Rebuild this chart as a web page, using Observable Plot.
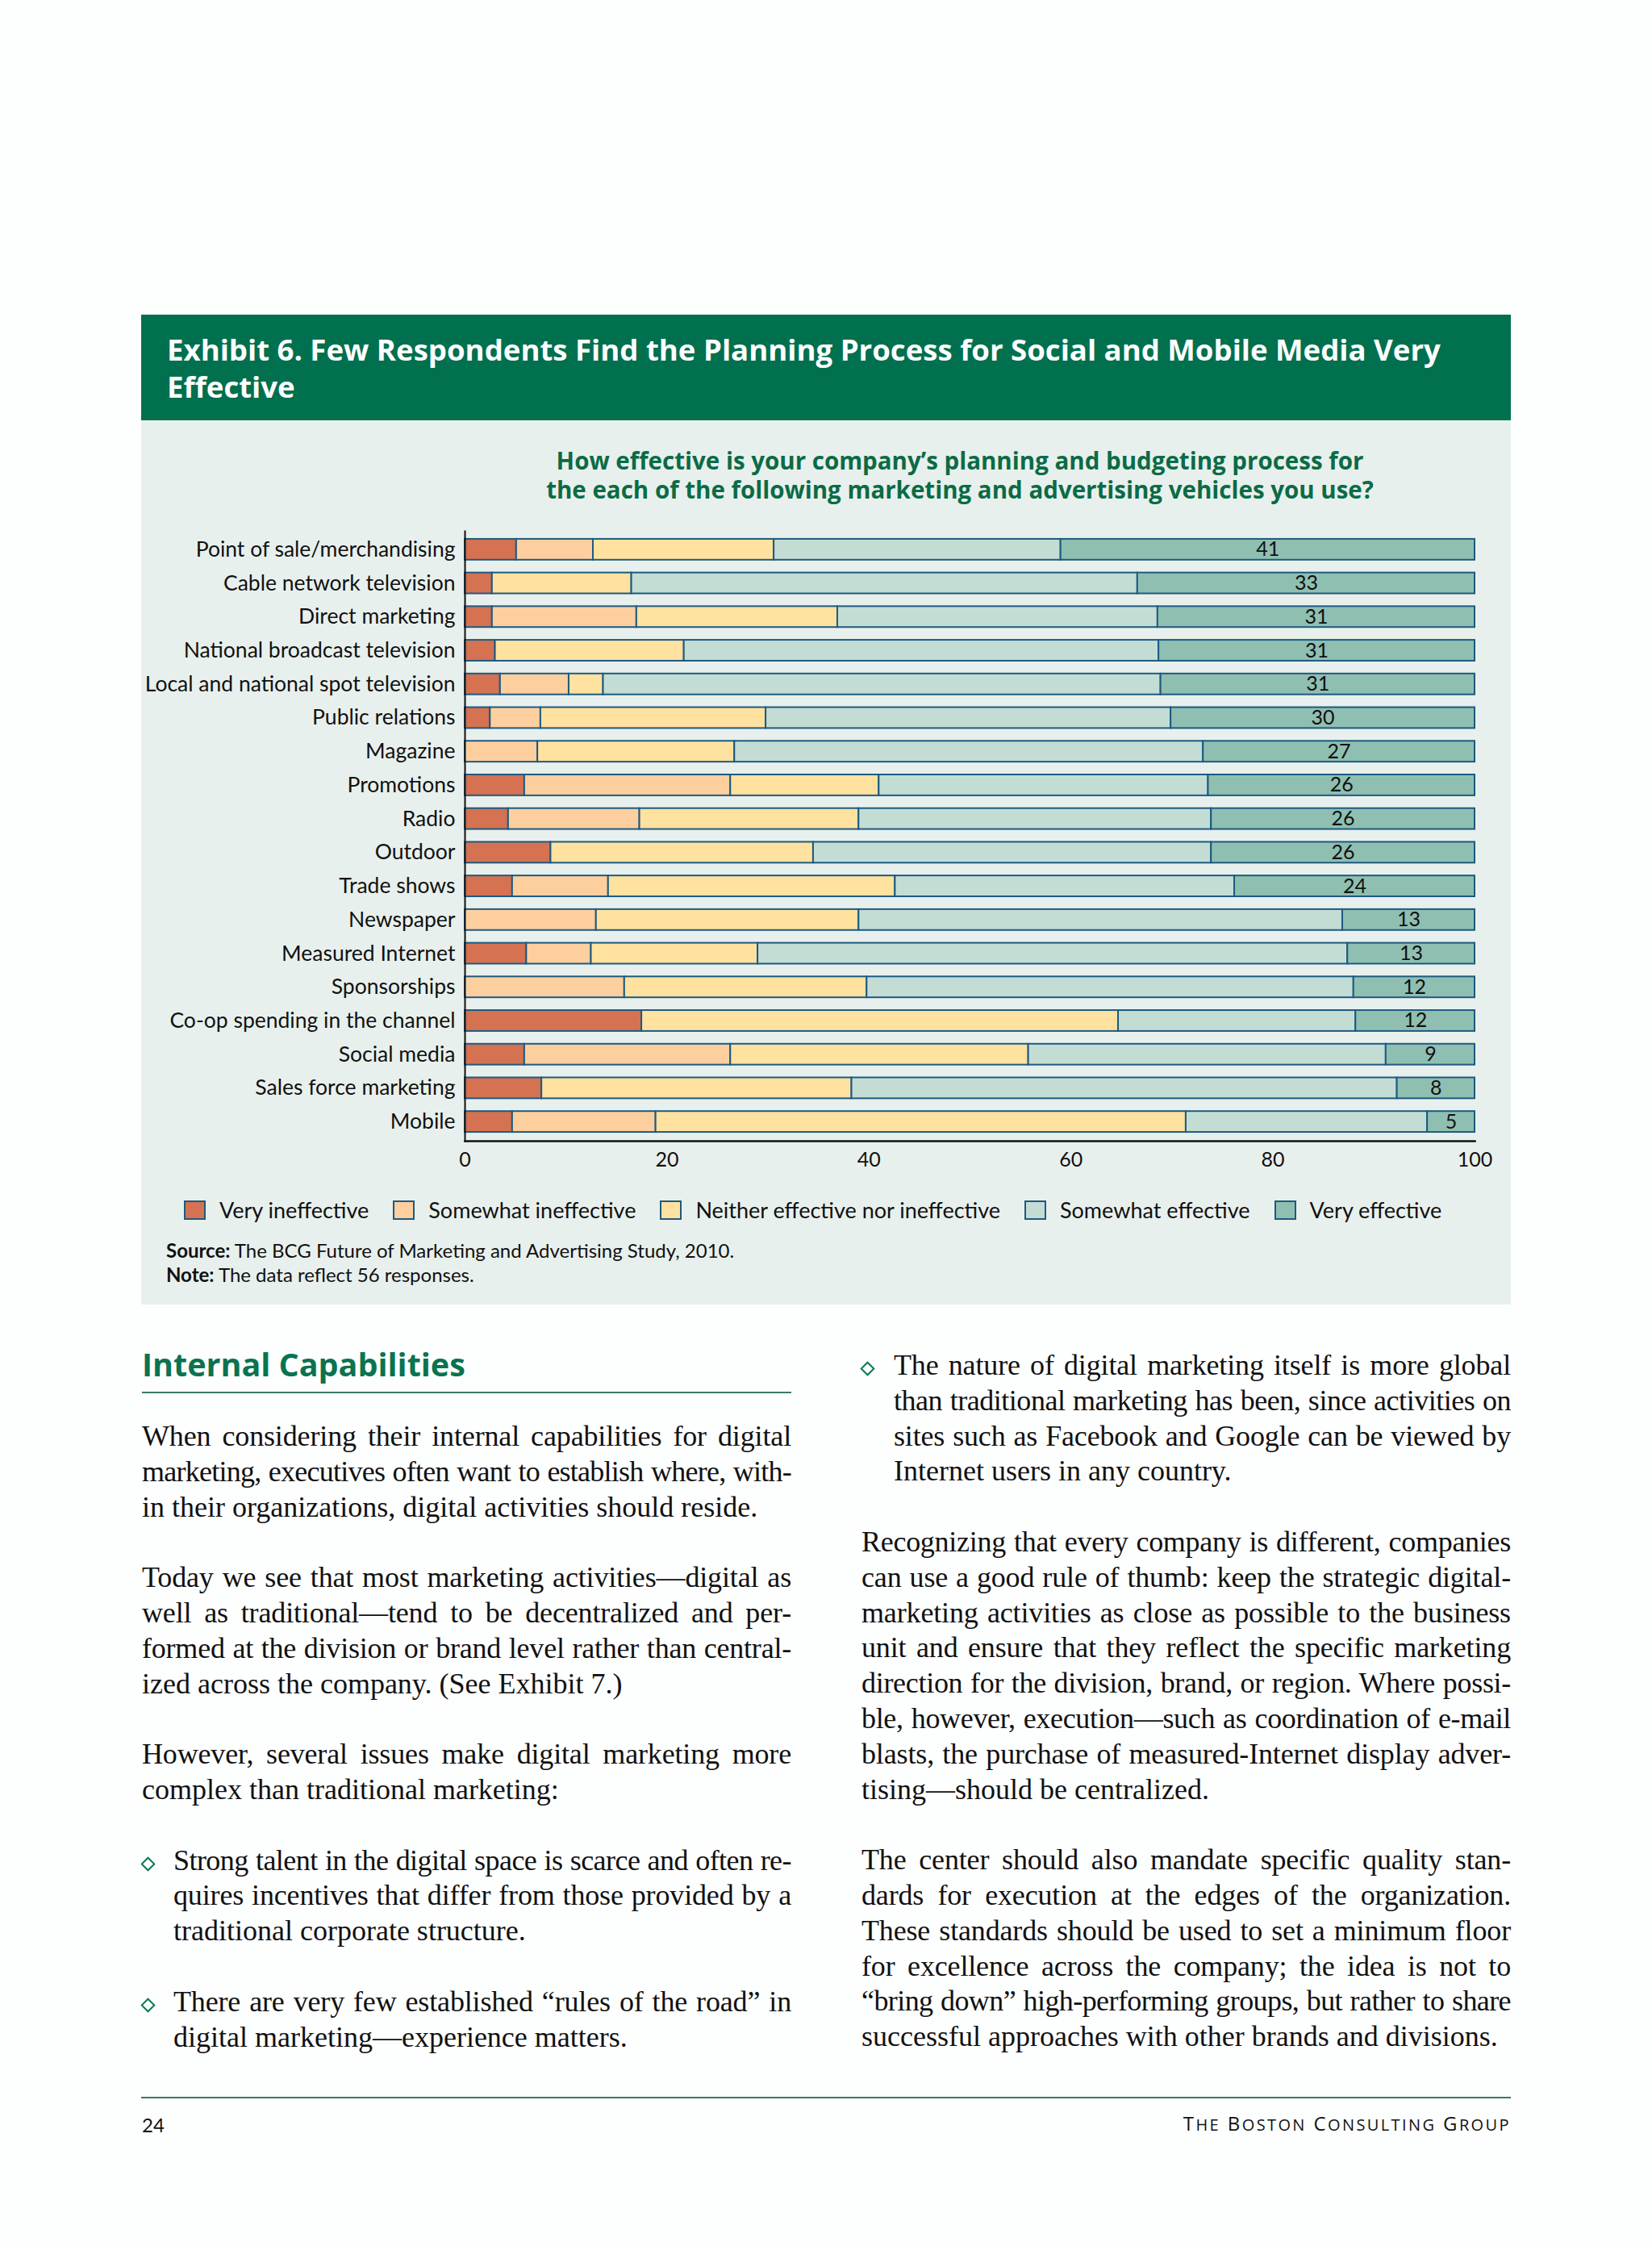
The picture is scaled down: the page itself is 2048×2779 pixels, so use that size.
<!DOCTYPE html>
<html>
<head>
<meta charset="utf-8">
<script src="https://cdn.jsdelivr.net/npm/d3@7"></script>
<script src="https://cdn.jsdelivr.net/npm/@observablehq/plot@0.6"></script>
<style>
  html, body { margin: 0; padding: 0; }
  body { width: 2048px; height: 2779px; background: #fdfefe; position: relative; overflow: hidden; font-family: Lato, "Open Sans", sans-serif; }
  .abs { position: absolute; }
  #titlebar { left: 175px; top: 390px; width: 1698px; height: 131px; background: #00704e; }
  #title { left: 207px; top: 410px; width: 1660px; color: #fff; font: 700 36.6px/46px "Open Sans", sans-serif; white-space: nowrap; }
  #panel { left: 175px; top: 521px; width: 1698px; height: 1096px; background: #e8f0ed; }
  #subtitle { left: 590px; top: 553px; width: 1200px; text-align: center; color: #0b6b45; font: 700 29.5px/35.5px "Open Sans", sans-serif; white-space: nowrap; }
  #chart { left: 0; top: 620px; }
  #legend { left: 228px; top: 1485px; display: flex; align-items: center; font: 400 27px/30px Lato, sans-serif; color: #111; white-space: nowrap; }
  .lg-item { display: flex; align-items: center; margin-right: 30px; }
  .lg-sw { width: 23px; height: 20px; border: 2px solid #1d5a80; margin-right: 17px; }
  #source { left: 206px; top: 1535px; font: 400 24px/30px Lato, sans-serif; color: #111; white-space: nowrap; }
  #heading { left: 176px; top: 1667px; color: #0a7350; font: 700 39.5px/48px "Open Sans", sans-serif; white-space: nowrap; }
  #rule1 { left: 176px; top: 1725px; width: 805px; height: 2px; background: #3b7a68; }
  .body { font-family: "Liberation Serif", "DejaVu Serif", serif; font-size: 36px; line-height: 43.8px; color: #111; }
  .ln { height: 43.8px; white-space: nowrap; }
  .j { text-align: justify; text-align-last: justify; }
  .dia { position: absolute; width: 9px; height: 9px; border: 2px solid #0b7a55; transform: rotate(45deg); }
  #rule2 { left: 175px; top: 2599px; width: 1698px; height: 2px; background: #3b7a68; }
  #pnum { left: 176px; top: 2620px; font: 400 24px/28px Lato, sans-serif; color: #111; }
  #brand { left: 1200px; top: 2618px; width: 673px; text-align: right; font: 400 24px/28px "Open Sans", sans-serif; color: #111; white-space: nowrap; letter-spacing: 2.4px; }
  #brand .sc { font-size: 20px; }
</style>
</head>
<body>
<div class="abs" id="titlebar"></div>
<div class="abs" id="title">Exhibit 6. Few Respondents Find the Planning Process for Social and Mobile Media Very<br>Effective</div>
<div class="abs" id="panel"></div>
<div class="abs" id="subtitle">How effective is your company’s planning and budgeting process for<br>the each of the following marketing and advertising vehicles you use?</div>
<div class="abs" id="chart"></div>
<div class="abs" id="legend"></div>
<div class="abs" id="source"><b>Source:</b> The BCG Future of Marketing and Advertising Study, 2010.<br><b>Note:</b> The data reflect 56 responses.</div>

<div class="abs" id="heading">Internal Capabilities</div>
<div class="abs" id="rule1"></div>

<div class="abs body" style="left:176px; top:1759px; width:805px;">
  <div class="ln j">When considering their internal capabilities for digital</div>
  <div class="ln j">marketing, executives often want to establish where, with-</div>
  <div class="ln">in their organizations, digital activities should reside.</div>
  <div class="ln"></div>
  <div class="ln j">Today we see that most marketing activities—digital as</div>
  <div class="ln j">well as traditional—tend to be decentralized and per-</div>
  <div class="ln j">formed at the division or brand level rather than central-</div>
  <div class="ln">ized across the company. (See Exhibit 7.)</div>
  <div class="ln"></div>
  <div class="ln j">However, several issues make digital marketing more</div>
  <div class="ln">complex than traditional marketing:</div>
  <div class="ln"></div>
  <div style="position:relative; padding-left:39px;">
    <span class="dia" style="left:1px; top:19px;"></span>
    <div class="ln j">Strong talent in the digital space is scarce and often re-</div>
    <div class="ln j">quires incentives that differ from those provided by a</div>
    <div class="ln">traditional corporate structure.</div>
  </div>
  <div class="ln"></div>
  <div style="position:relative; padding-left:39px;">
    <span class="dia" style="left:1px; top:19px;"></span>
    <div class="ln j">There are very few established “rules of the road” in</div>
    <div class="ln">digital marketing—experience matters.</div>
  </div>
</div>

<div class="abs body" style="left:1068px; top:1671px; width:805px;">
  <div style="position:relative; padding-left:40px;">
    <span class="dia" style="left:1px; top:19px;"></span>
    <div class="ln j">The nature of digital marketing itself is more global</div>
    <div class="ln j">than traditional marketing has been, since activities on</div>
    <div class="ln j">sites such as Facebook and Google can be viewed by</div>
    <div class="ln">Internet users in any country.</div>
  </div>
  <div class="ln"></div>
  <div class="ln j">Recognizing that every company is different, companies</div>
  <div class="ln j">can use a good rule of thumb: keep the strategic digital-</div>
  <div class="ln j">marketing activities as close as possible to the business</div>
  <div class="ln j">unit and ensure that they reflect the specific marketing</div>
  <div class="ln j">direction for the division, brand, or region. Where possi-</div>
  <div class="ln j">ble, however, execution—such as coordination of e-mail</div>
  <div class="ln j">blasts, the purchase of measured-Internet display adver-</div>
  <div class="ln">tising—should be centralized.</div>
  <div class="ln"></div>
  <div class="ln j">The center should also mandate specific quality stan-</div>
  <div class="ln j">dards for execution at the edges of the organization.</div>
  <div class="ln j">These standards should be used to set a minimum floor</div>
  <div class="ln j">for excellence across the company; the idea is not to</div>
  <div class="ln j">“bring down” high-performing groups, but rather to share</div>
  <div class="ln">successful approaches with other brands and divisions.</div>
</div>

<div class="abs" id="rule2"></div>
<div class="abs" id="pnum">24</div>
<div class="abs" id="brand">T<span class="sc">HE</span> B<span class="sc">OSTON</span> C<span class="sc">ONSULTING</span> G<span class="sc">ROUP</span></div>

<script>
// ---- data ----
const vehicles = [
  "Point of sale/merchandising",
  "Cable network television",
  "Direct marketing",
  "National broadcast television",
  "Local and national spot television",
  "Public relations",
  "Magazine",
  "Promotions",
  "Radio",
  "Outdoor",
  "Trade shows",
  "Newspaper",
  "Measured Internet",
  "Sponsorships",
  "Co-op spending in the channel",
  "Social media",
  "Sales force marketing",
  "Mobile"
];
const veryIneffective     = [5.1, 2.7, 2.7, 3.0, 3.5, 2.5, 0, 5.9, 4.3, 8.5, 4.7, 0, 6.1, 0, 17.5, 5.9, 7.6, 4.7];
const somewhatIneffective = [7.6, 0, 14.3, 0, 6.8, 5.0, 7.2, 20.4, 13.0, 0, 9.5, 13.0, 6.4, 15.8, 0, 20.4, 0, 14.2];
const neitherNor          = [17.9, 13.8, 19.9, 18.7, 3.4, 22.3, 19.5, 14.7, 21.7, 26.0, 28.4, 26.0, 16.5, 24.0, 47.2, 29.5, 30.7, 52.5];
const somewhatEffective   = [28.4, 50.1, 31.7, 47.0, 55.2, 40.1, 46.4, 32.6, 34.9, 39.4, 33.6, 47.9, 58.4, 48.2, 23.5, 35.4, 54.0, 23.9];
const veryEffective       = [41.0, 33.4, 31.4, 31.3, 31.1, 30.1, 26.9, 26.4, 26.1, 26.1, 23.8, 13.1, 12.6, 12.0, 11.8, 8.8, 7.7, 4.7];
const ratings = ["Very ineffective", "Somewhat ineffective", "Neither effective nor ineffective", "Somewhat effective", "Very effective"];
const ratingColors = ["#d47252", "#fecf9e", "#ffe29f", "#c3ddd5", "#8ebfb1"];
const xTicks = [0, 20, 40, 60, 80, 100];

// ---- build ----
const seriesValues = [veryIneffective, somewhatIneffective, neitherNor, somewhatEffective, veryEffective];
const tidy = vehicles.flatMap((v, i) => ratings.map((r, j) => ({vehicle: v, rating: r, value: seriesValues[j][i]})))
  .filter(d => d.value > 0);
const labels = vehicles.map((v, i) => ({vehicle: v, ve: veryEffective[i]}));
const edge = "#1d5a80";

const chart = Plot.plot({
  width: 2048,
  height: 844,
  marginLeft: 576,
  marginRight: 220,
  marginTop: 38,
  marginBottom: 50,
  style: {background: "transparent", fontFamily: "Lato, sans-serif", fontSize: "24px", color: "#111"},
  x: {domain: [0, 100], label: null},
  y: {domain: vehicles, label: null, paddingInner: 0.38, paddingOuter: 0.19, insetTop: 2, insetBottom: 3, round: false},
  color: {domain: ratings, range: ratingColors},
  marks: [
    Plot.barX(tidy, {x: "value", y: "vehicle", fill: "rating", stroke: edge, strokeWidth: 2}),
    Plot.text(labels, {x: d => 100 - d.ve / 2, y: "vehicle", text: d => String(Math.round(d.ve)), fontSize: 25, fill: "#111"}),
    Plot.frame({anchor: "left", stroke: "#111", strokeWidth: 2}),
    Plot.frame({anchor: "bottom", stroke: "#111", strokeWidth: 2.5}),
    Plot.axisX({ticks: xTicks, tickSize: 0, tickPadding: 14, fontSize: 25, label: null}),
    Plot.axisY({tickSize: 0, tickPadding: 12, fontSize: 26.5, label: null})
  ]
});
document.getElementById("chart").appendChild(chart);

// legend
const lg = d3.select("#legend");
ratings.forEach((r, i) => {
  const it = lg.append("div").attr("class", "lg-item");
  it.append("div").attr("class", "lg-sw").style("background", ratingColors[i]);
  it.append("span").text(r);
});

// fit justified body lines into their column
function fitLines() {
  document.querySelectorAll(".ln.j").forEach(el => {
    el.style.whiteSpace = "nowrap";
    el.style.letterSpacing = "0px";
    const w = el.clientWidth;
    const r = document.createRange();
    r.selectNodeContents(el);
    const nat = r.getBoundingClientRect().width;
    if (nat > w - 4) {
      const n = el.textContent.trim().length;
      el.style.letterSpacing = (-(nat - w + 8) / n).toFixed(3) + "px";
    }
    el.style.whiteSpace = "normal";
  });
}
fitLines();
if (document.fonts && document.fonts.ready) document.fonts.ready.then(fitLines);
</script>
</body>
</html>
